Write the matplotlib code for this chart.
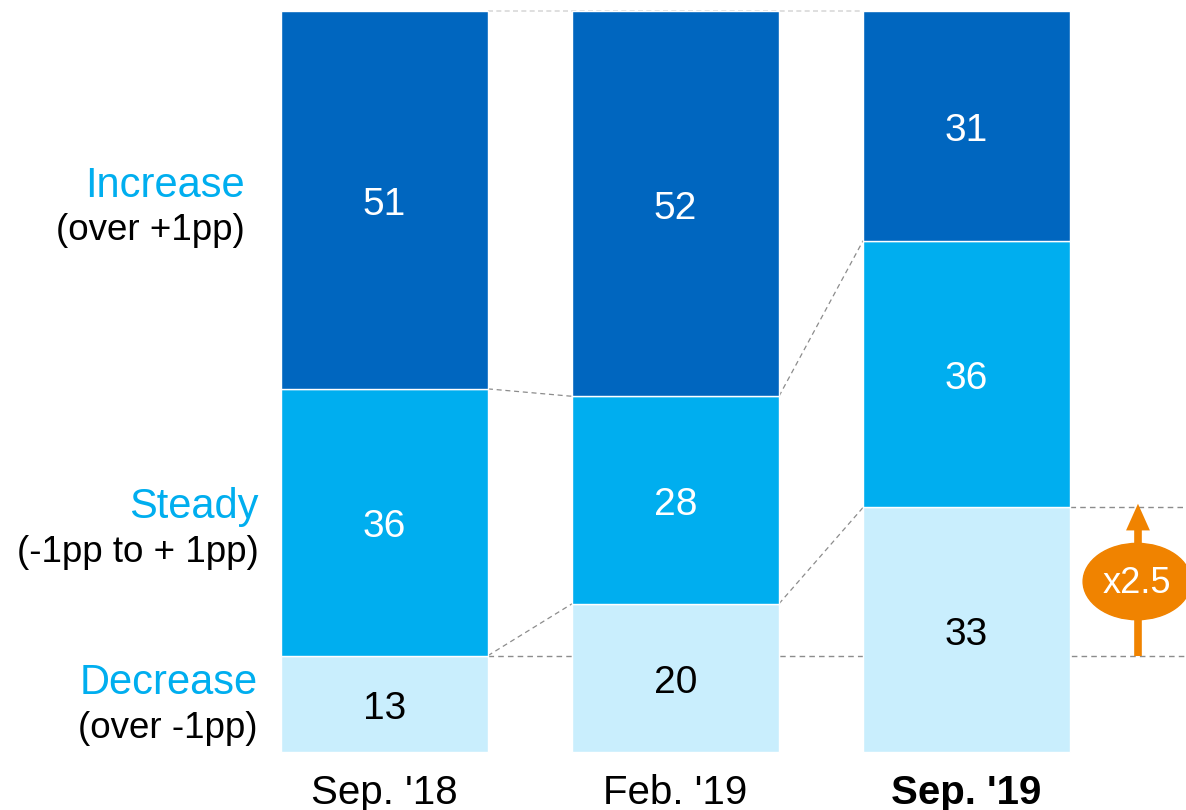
import matplotlib.pyplot as plt
from matplotlib.patches import Ellipse
import numpy as np

plt.rcParams['font.family'] = ['Liberation Sans', 'DejaVu Sans']

# survey shares (%) per wave
periods = ["Sep. '18", "Feb. '19", "Sep. '19"]
decrease = [13, 20, 33]
steady = [36, 28, 36]
increase = [51, 52, 31]

cat_names = ['Increase', 'Steady', 'Decrease']
cat_notes = ['(over +1pp)', '(-1pp to + 1pp)', '(over -1pp)']
ratio_label = 'x2.5'

c_dark = '#0066BF'
c_mid = '#00AEEF'
c_light = '#C9EEFD'
c_orange = '#F08300'

fig = plt.figure(figsize=(11.86, 8.10), dpi=100)
ax = fig.add_axes([0, 0, 1, 1])
ax.set_xlim(-1.321, 2.754)
ax.set_ylim(-7.83, 101.48)
ax.axis('off')

x = np.arange(len(periods))
w = 0.711
dec = np.array(decrease)
std = np.array(steady)
inc = np.array(increase)

# dashed guide lines go under the bars
ax.plot([0 + w / 2, 2 - w / 2], [100, 100], ls=(0, (3, 2)), color='#D9D9D9', lw=1.2, zorder=1)
ax.plot([0 + w / 2, 2.76], [dec[0], dec[0]], ls=(0, (4, 3)), color='#8C8C8C', lw=1.0, zorder=1)
ax.plot([2 + w / 2, 2.76], [dec[2], dec[2]], ls=(0, (4, 3)), color='#8C8C8C', lw=1.0, zorder=1)
for i in range(len(periods) - 1):
    for lvl in (dec, dec + std):
        ax.plot([i + w / 2, i + 1 - w / 2], [lvl[i], lvl[i + 1]],
                ls=(0, (4, 3)), color='#8C8C8C', lw=0.9, zorder=1)

ax.bar(x, dec, w, color=c_light, edgecolor='white', lw=1, zorder=2)
ax.bar(x, std, w, bottom=dec, color=c_mid, edgecolor='white', lw=1, zorder=2)
ax.bar(x, inc, w, bottom=dec + std, color=c_dark, edgecolor='white', lw=1, zorder=2)

dy = -0.7  # nudge numbers down to the optical centre
for i in range(len(periods)):
    ax.text(x[i], dec[i] / 2 + dy, str(dec[i]), ha='center', va='center', fontsize=28, color='black', zorder=3)
    ax.text(x[i], dec[i] + std[i] / 2 + dy, str(std[i]), ha='center', va='center', fontsize=28, color='white', zorder=3)
    ax.text(x[i], dec[i] + std[i] + inc[i] / 2 + dy, str(inc[i]), ha='center', va='center', fontsize=28, color='white', zorder=3)
    ax.text(x[i], -5.5, periods[i], ha='center', va='center', fontsize=29,
            fontweight='bold' if i == 2 else 'normal', color='black')

# category labels on the left
name_y = [76.4, 33.1, 9.3]
note_y = [70.4, 26.9, 3.2]
right_x = [-0.481, -0.433, -0.436]
for name, note, ny, ty, rx in zip(cat_names, cat_notes, name_y, note_y, right_x):
    ax.text(rx, ny, name, ha='right', va='center', fontsize=30, color=c_mid)
    ax.text(rx, ty, note, ha='right', va='center', fontsize=26.5, color='black')

# growth arrow beside the last bar
arr_x = 2.589
ax.plot([arr_x, arr_x], [dec[0], dec[2] - 2.8], color=c_orange, lw=5.5,
        solid_capstyle='butt', zorder=4)
ax.fill([arr_x - 0.041, arr_x + 0.041, arr_x], [dec[2] - 3.1, dec[2] - 3.1, dec[2] + 0.5],
        color=c_orange, lw=0, zorder=4)
ax.add_patch(Ellipse((2.586, 23.0), 0.371, 10.3, color=c_orange, zorder=5))
ax.text(2.586, 22.8, ratio_label, ha='center', va='center', fontsize=26, color='white', zorder=6)

fig.savefig('out.png', dpi=100)
